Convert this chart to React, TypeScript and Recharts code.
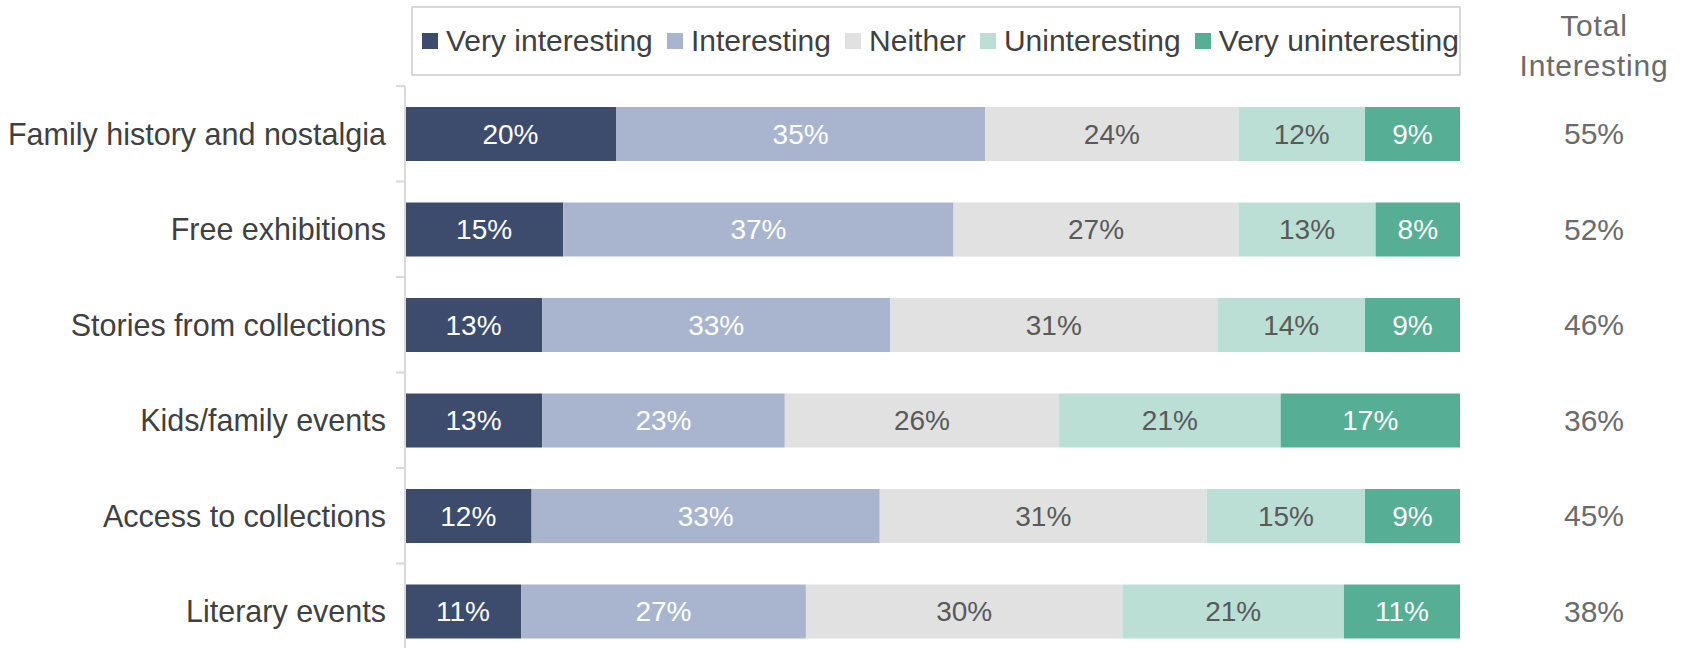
import React from 'react';
import { BarChart, Bar, XAxis, YAxis, LabelList } from 'recharts';

const categories = [
  'Family history and nostalgia',
  'Free exhibitions',
  'Stories from collections',
  'Kids/family events',
  'Access to collections',
  'Literary events',
];
const veryInteresting = [20, 15, 13, 13, 12, 11];
const interesting = [35, 37, 33, 23, 33, 27];
const neither = [24, 27, 31, 26, 31, 30];
const uninteresting = [12, 13, 14, 21, 15, 21];
const veryUninteresting = [9, 8, 9, 17, 9, 11];
const totalInteresting = [55, 52, 46, 36, 45, 38];

const SERIES = [
  { key: 'veryInteresting', name: 'Very interesting', color: '#3d4c6d', label: '#ffffff' },
  { key: 'interesting', name: 'Interesting', color: '#a9b5cf', label: '#ffffff' },
  { key: 'neither', name: 'Neither', color: '#e1e1e1', label: '#595959' },
  { key: 'uninteresting', name: 'Uninteresting', color: '#bbdfd5', label: '#595959' },
  { key: 'veryUninteresting', name: 'Very uninteresting', color: '#56ae95', label: '#ffffff' },
];

const data = categories.map((name, i) => ({
  name,
  veryInteresting: veryInteresting[i],
  interesting: interesting[i],
  neither: neither[i],
  uninteresting: uninteresting[i],
  veryUninteresting: veryUninteresting[i],
  total: totalInteresting[i],
}));

const FONT = "'Liberation Sans', Arial, sans-serif";
const W = 1684;
const H = 680;
const MARGIN = { top: 86, right: 0, bottom: 21, left: 0 };
const BAND = (H - MARGIN.top - MARGIN.bottom) / categories.length;
const LABEL_GAP = 19;

const CategoryTick = (props: any) => {
  const { x, y, payload, index } = props;
  const axisX = x + LABEL_GAP;
  return (
    <g>
      <line x1={axisX - 9} x2={axisX} y1={y - BAND / 2} y2={y - BAND / 2} stroke="#d9d9d9" strokeWidth={2} />
      {index === categories.length - 1 && (
        <line x1={axisX - 9} x2={axisX} y1={y + BAND / 2} y2={y + BAND / 2} stroke="#d9d9d9" strokeWidth={2} />
      )}
      <text x={x} y={y} dy="0.355em" textAnchor="end" fontSize={30.5} fontFamily={FONT} fill="#404040">
        {payload.value}
      </text>
    </g>
  );
};

const TotalTick = (props: any) => {
  const { x, y, index } = props;
  return (
    <text x={x + 134} y={y} dy="0.355em" textAnchor="middle" fontSize={30} fontFamily={FONT} fill="#6b6b6b">
      {totalInteresting[index]}%
    </text>
  );
};

const LegendBox = () => (
  <div
    style={{
      position: 'absolute',
      left: 411,
      top: 6,
      width: 1050,
      height: 70,
      boxSizing: 'border-box',
      border: '2px solid #d9d9d9',
      display: 'flex',
      alignItems: 'center',
      justifyContent: 'space-between',
      paddingLeft: 9,
      paddingRight: 0,
      fontFamily: FONT,
      fontSize: 30,
      color: '#404040',
      whiteSpace: 'nowrap',
    }}
  >
    {SERIES.map((s) => (
      <div key={s.key} style={{ display: 'flex', alignItems: 'center' }}>
        <span style={{ display: 'inline-block', width: 16, height: 16, background: s.color, marginRight: 8 }} />
        <span>{s.name}</span>
      </div>
    ))}
  </div>
);

const TotalHeader = () => (
  <div
    style={{
      position: 'absolute',
      left: 1494,
      top: 6,
      width: 200,
      textAlign: 'center',
      fontFamily: FONT,
      fontSize: 30,
      lineHeight: '40px',
      letterSpacing: 0.8,
      color: '#6b6b6b',
    }}
  >
    <div>Total</div>
    <div>Interesting</div>
  </div>
);

export default function App() {
  return (
    <div style={{ position: 'absolute', left: 0, top: 0, width: W, height: 648, overflow: 'hidden', background: '#fff' }}>
      <BarChart width={W} height={H} data={data} layout="vertical" margin={MARGIN}>
        <XAxis type="number" domain={[0, 100]} hide />
        <YAxis
          type="category"
          dataKey="name"
          width={405}
          axisLine={{ stroke: '#d9d9d9', strokeWidth: 2 }}
          tickLine={false}
          tickSize={0}
          tickMargin={LABEL_GAP}
          tick={<CategoryTick />}
          interval={0}
        />
        <YAxis
          yAxisId="right"
          orientation="right"
          type="category"
          dataKey="name"
          width={224}
          axisLine={false}
          tickLine={false}
          tickSize={0}
          tickMargin={0}
          tick={<TotalTick />}
          interval={0}
        />
        {SERIES.map((s) => (
          <Bar key={s.key} dataKey={s.key} name={s.name} stackId="a" fill={s.color} barSize={54} isAnimationActive={false}>
            <LabelList
              dataKey={s.key}
              position="center"
              formatter={(v: any) => `${v}%`}
              fill={s.label}
              fontSize={28}
              fontFamily={FONT}
            />
          </Bar>
        ))}
      </BarChart>
      <LegendBox />
      <TotalHeader />
    </div>
  );
}
